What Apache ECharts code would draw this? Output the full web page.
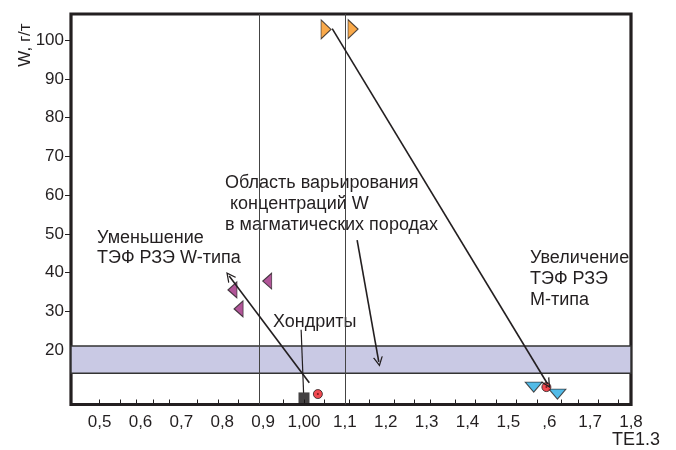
<!DOCTYPE html>
<html>
<head>
<meta charset="utf-8">
<script src="https://cdn.jsdelivr.net/npm/echarts@6/dist/echarts.min.js"></script>
<style>
  html, body { margin: 0; padding: 0; background: #fff; }
  #chart { width: 676px; height: 450px; }
</style>
</head>
<body>
<div id="chart"></div>
<script>
// Axis labels and ticks (TE1.3 on x, W in g/t on y)
const xLabelValues = [0.5, 0.6, 0.7, 0.8, 0.9, 1.0, 1.1, 1.2, 1.3, 1.4, 1.5, 1.6, 1.7, 1.8];
const xLabelTexts  = ['0,5', '0,6', '0,7', '0,8', '0,9', '1,00', '1,1', '1,2', '1,3', '1,4', '1,5', ',6', '1,7', '1,8'];
const xTickValues  = [0.5, 0.55, 0.59, 0.63, 0.67, 0.74, 0.79, 0.84, 0.89, 0.95, 1.0, 1.05, 1.11, 1.16,
                      1.22, 1.27, 1.31, 1.37, 1.42, 1.47, 1.52, 1.57, 1.63, 1.67, 1.72, 1.77];
const yLabelValues = [20, 30, 40, 50, 60, 70, 80, 90, 100];
const yTickValues  = [30, 40, 50, 60, 70, 80, 90, 100];

// Boundaries of the TE1.3 field and the W range in magmatic rocks
const boundaryX = [0.893, 1.1];
const magmaticW = [14, 21];

// Samples: [TE1.3, W]
const orangePts  = [[1.054, 102.8], [1.12, 102.9]];
const purplePts  = [[0.91, 37.8], [0.825, 35.5], [0.84, 30.6]];
const bluePts    = [[1.562, 10.4], [1.62, 8.6]];
const redPts     = [[1.034, 8.6], [1.593, 10.4]];
const chondrite  = [[1.0, 7.6]];

// Trend arrows and the chondrite leader: [from, to]
const trendArrows = [
  [[1.069, 103.0], [1.596, 11.2]],
  [[1.013, 11.5], [0.817, 39.1]],
  [[1.13, 48.4], [1.183, 16.9]]
];
const chondriteLeader = [[0.993, 25.2], [0.999, 8.9]];

const ink = '#231f20';
const font = '"Liberation Sans", Arial, sans-serif';
const noteFont = '18px ' + font;
const chevron = 'path://M0,10 L5,0 L10,10 L8.6,10 L5,2.8 L1.4,10 Z';

const chart = echarts.init(document.getElementById('chart'), null, { renderer: 'canvas' });

chart.setOption({
  animation: false,
  backgroundColor: '#fff',
  grid: {
    left: 71, right: 45, top: 14, bottom: 45.5,
    show: true, borderColor: ink, borderWidth: 3.2, backgroundColor: 'transparent'
  },
  xAxis: {
    type: 'value', min: 0.43, max: 1.8,
    axisLine: { show: false },
    splitLine: { show: false },
    axisTick: { show: true, inside: true, length: 5, customValues: xTickValues,
                lineStyle: { color: ink, width: 1 } },
    axisLabel: {
      customValues: xLabelValues, margin: 9, fontSize: 17, color: ink, fontFamily: font,
      formatter: v => {
        const i = xLabelValues.findIndex(t => Math.abs(t - v) < 1e-6);
        return i >= 0 ? xLabelTexts[i] : '';
      }
    }
  },
  yAxis: {
    type: 'value', min: 5.9, max: 106.8,
    axisLine: { show: false },
    splitLine: { show: false },
    axisTick: { show: true, inside: false, length: 6, customValues: yTickValues,
                lineStyle: { color: ink, width: 1 } },
    axisLabel: { customValues: yLabelValues, margin: 7, fontSize: 17, color: ink, fontFamily: font }
  },
  series: [
    {
      // field boundaries
      type: 'scatter', data: [], z: 1, silent: true,
      markLine: {
        silent: true, symbol: 'none', label: { show: false },
        lineStyle: { color: '#444', width: 1, type: 'solid' },
        data: boundaryX.map(v => ({ xAxis: v }))
      }
    },
    {
      // W range in magmatic rocks
      type: 'scatter', data: [], z: 2, silent: true,
      markArea: {
        silent: true,
        itemStyle: { color: '#c9c9e4', borderColor: '#333', borderWidth: 1.5 },
        data: [[{ yAxis: magmaticW[0] }, { yAxis: magmaticW[1] }]]
      }
    },
    {
      type: 'scatter', data: orangePts, z: 5, clip: false,
      symbol: 'triangle', symbolRotate: -90, symbolSize: [19, 10],
      itemStyle: { color: '#f7941d', borderColor: ink, borderWidth: 1 }
    },
    {
      type: 'scatter', data: purplePts, z: 5, clip: false,
      symbol: 'triangle', symbolRotate: 90, symbolSize: [16, 9],
      itemStyle: { color: '#9e2a7e', borderColor: ink, borderWidth: 1 }
    },
    {
      type: 'scatter', data: bluePts, z: 5, clip: false,
      symbol: 'triangle', symbolRotate: 180, symbolSize: [17, 10],
      itemStyle: { color: '#27aae1', borderColor: ink, borderWidth: 1 }
    },
    {
      type: 'scatter', data: chondrite, z: 5, clip: false,
      symbol: 'rect', symbolSize: 11,
      itemStyle: { color: '#151213' }
    },
    {
      type: 'scatter', data: redPts, z: 6, clip: false,
      symbol: 'circle', symbolSize: 9,
      itemStyle: { color: '#ed1c24', borderColor: ink, borderWidth: 1 }
    },
    {
      type: 'scatter', data: redPts, z: 7, clip: false,
      symbol: 'circle', symbolSize: 2,
      itemStyle: { color: '#5a0a0c' }
    },
    {
      type: 'lines', coordinateSystem: 'cartesian2d', z: 8, silent: true,
      symbol: ['none', chevron], symbolSize: [11, 10],
      lineStyle: { color: ink, width: 1.6, opacity: 1, curveness: 0 },
      data: trendArrows.map(c => ({ coords: c }))
    },
    {
      type: 'lines', coordinateSystem: 'cartesian2d', z: 8, silent: true,
      symbol: ['none', 'none'],
      lineStyle: { color: ink, width: 1.2, opacity: 1 },
      data: [{ coords: chondriteLeader }]
    }
  ],
  graphic: [
    { type: 'text', x: 25, y: 45, rotation: Math.PI / 2,
      style: { text: 'W, г/т', font: '17px ' + font, fill: ink, align: 'center', verticalAlign: 'middle' } },
    { type: 'text', left: 612, top: 431,
      style: { text: 'TE1.3', font: noteFont, fill: ink } },
    { type: 'text', left: 225, top: 173,
      style: { text: 'Область варьирования\n концентраций W\nв магматических породах',
               font: noteFont, fill: ink, lineHeight: 21 } },
    { type: 'text', left: 97, top: 228,
      style: { text: 'Уменьшение\nТЭФ РЗЭ W-типа', font: noteFont, fill: ink, lineHeight: 20 } },
    { type: 'text', left: 530, top: 248,
      style: { text: 'Увеличение\nТЭФ РЗЭ\nМ-типа', font: noteFont, fill: ink, lineHeight: 21 } },
    { type: 'text', left: 273, top: 313,
      style: { text: 'Хондриты', font: noteFont, fill: ink } }
  ]
});
</script>
</body>
</html>
